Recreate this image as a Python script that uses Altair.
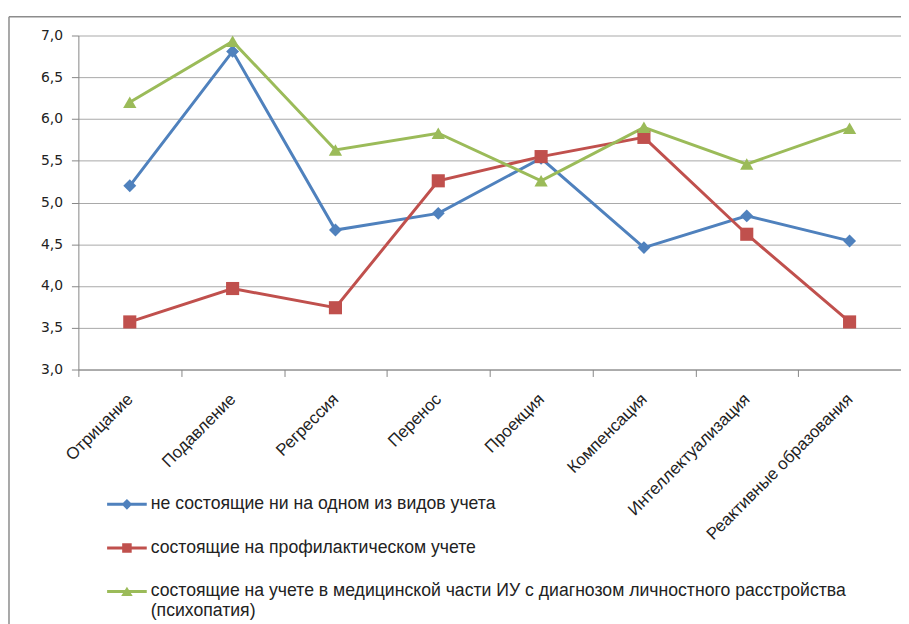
import altair as alt
import pandas as pd

categories = ["Отрицание", "Подавление", "Регрессия", "Перенос", "Проекция",
              "Компенсация", "Интеллектуализация", "Реактивные образования"]
series_names = [
    "не состоящие ни на одном из видов учета",
    "состоящие на профилактическом учете",
    "состоящие на учете в медицинской части ИУ с диагнозом личностного расстройства (психопатия)",
]
values_none = [5.20, 6.81, 4.67, 4.87, 5.53, 4.46, 4.84, 4.54]
values_prof = [3.57, 3.97, 3.74, 5.26, 5.55, 5.78, 4.62, 3.57]
values_psych = [6.20, 6.93, 5.63, 5.83, 5.26, 5.90, 5.46, 5.89]
colors = ["#4F81BD", "#C0504D", "#9BBB59"]
shapes = ["diamond", "square", "triangle-up"]
legend_shapes = [
    "M-1,-0.325L1,-0.325L1,-0.175L-1,-0.175Z M0,-0.52L0.27,-0.25L0,0.02L-0.27,-0.25Z",
    "M-1,-0.325L1,-0.325L1,-0.175L-1,-0.175Z M-0.24,-0.49L0.24,-0.49L0.24,-0.01L-0.24,-0.01Z",
    "M-1,-0.325L1,-0.325L1,-0.175L-1,-0.175Z M0,-0.49L0.29,-0.03L-0.29,-0.03Z",
]
y_ticks = [3.0, 3.5, 4.0, 4.5, 5.0, 5.5, 6.0, 6.5, 7.0]

rows = []
for name, vals in zip(series_names, [values_none, values_prof, values_psych]):
    for i, (c, v) in enumerate(zip(categories, vals)):
        rows.append({"cat": c, "value": v, "series": name, "idx": i})
df = pd.DataFrame(rows)

x_enc = alt.X(
    "cat:N",
    sort=categories,
    scale=alt.Scale(type="band", domain=categories, paddingInner=0, paddingOuter=0),
    axis=alt.Axis(
        title=None, tickBand="extent", ticks=True, tickSize=7, tickColor="#868686",
        domainColor="#868686", labelAngle=315, labelAlign="right", labelBaseline="middle",
        labelPadding=20, labelFontSize=17, labelFont="Liberation Sans", labelColor="#222222",
        grid=False, labelLimit=400,
    ),
)
y_enc = alt.Y(
    "value:Q",
    scale=alt.Scale(domain=[3, 7], nice=False, zero=False),
    axis=alt.Axis(
        title=None, values=y_ticks, tickSize=7, tickColor="#868686", domainColor="#868686",
        labelExpr="replace(format(datum.value, '.1f'), '.', ',')", labelPadding=9,
        labelFontSize=14, labelFont="DejaVu Sans", labelColor="#222222",
        gridColor="#A8A8A8", grid=True,
    ),
)
color_scale = alt.Scale(domain=series_names, range=colors)

lines = alt.Chart(df).mark_line(strokeWidth=3).encode(
    x=x_enc, y=y_enc,
    color=alt.Color("series:N", scale=color_scale, legend=None),
    detail="series:N",
    order="idx:Q",
)
points = alt.Chart(df).mark_point(filled=True, opacity=1, strokeWidth=0).encode(
    x=x_enc, y=y_enc,
    color=alt.Color("series:N", scale=color_scale, legend=None),
    shape=alt.Shape("series:N", scale=alt.Scale(domain=series_names, range=shapes), legend=None),
    size=alt.Size("series:N", scale=alt.Scale(domain=series_names, range=[170, 180, 190]), legend=None),
)

leg = alt.Legend(
    orient="none", legendX=29, legendY=458, title=None, direction="vertical",
    labelFont="Liberation Sans", labelFontSize=17.8, labelColor="#222222",
    symbolSize=1600, symbolStrokeWidth=0, symbolOpacity=1, labelOffset=4,
    rowPadding=20, labelLimit=900, labelBaseline="alphabetic",
    labelExpr="split(replace(datum.label, ' (', '|('), '|')", padding=0,
)
ghost = alt.Chart(df).mark_point(filled=True, opacity=0, strokeWidth=0).encode(
    x=x_enc, y=y_enc,
    color=alt.Color("series:N", scale=color_scale, legend=leg),
    shape=alt.Shape("series:N", scale=alt.Scale(domain=series_names, range=legend_shapes), legend=leg),
)

border_df = pd.DataFrame({"k": [0]})
border_top = alt.Chart(border_df).mark_rule(color="#8C8C8C", strokeWidth=1.5).encode(
    x=alt.value(-70), x2=alt.value(840), y=alt.value(-19)
)
border_left = alt.Chart(border_df).mark_rule(color="#8C8C8C", strokeWidth=1.5).encode(
    x=alt.value(-70), y=alt.value(-19), y2=alt.value(640)
)

chart = alt.layer(border_top, border_left, lines, points, ghost).resolve_scale(
    color="independent", shape="independent", size="independent"
).properties(
    width=830, height=337,
    autosize=alt.AutoSizeParams(type="none"),
    padding={"left": 71, "top": 25, "right": 0, "bottom": 254},
).configure_view(stroke=None)

chart.save("out.html", embed_options={"renderer": "svg", "actions": False})
